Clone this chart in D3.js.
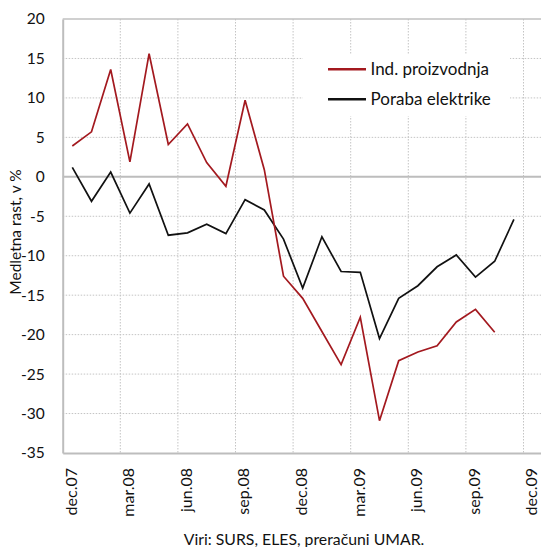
<!DOCTYPE html>
<html>
<head>
<meta charset="utf-8">
<script src="https://cdn.jsdelivr.net/npm/d3@7/dist/d3.min.js"></script>
<style>
  html, body { margin: 0; padding: 0; background: #fff; }
  svg { display: block; font-family: Lato, "Open Sans", sans-serif; }
</style>
</head>
<body>
<svg id="chart" width="541" height="547"></svg>
<script>
// Months, December 2007 – December 2009
const months = [
  "dec.07","jan.08","feb.08","mar.08","apr.08","maj.08","jun.08","jul.08","avg.08",
  "sep.08","okt.08","nov.08","dec.08","jan.09","feb.09","mar.09","apr.09","maj.09",
  "jun.09","jul.09","avg.09","sep.09","okt.09","nov.09","dec.09"
];
// Year-on-year growth, %
const indProizvodnja = [3.9, 5.7, 13.6, 1.9, 15.6, 4.1, 6.7, 1.8, -1.2, 9.7, 0.9, -12.6,
  -15.4, -19.6, -23.8, -17.8, -30.9, -23.3, -22.2, -21.4, -18.4, -16.8, -19.7];
const porabaElektrike = [1.2, -3.1, 0.6, -4.6, -0.9, -7.4, -7.1, -6.0, -7.2, -2.9, -4.2, -7.9,
  -14.1, -7.6, -12.0, -12.1, -20.5, -15.4, -13.8, -11.4, -9.9, -12.7, -10.7, -5.4];
const yTicks = [20, 15, 10, 5, 0, -5, -10, -15, -20, -25, -30, -35];
const seriesNames = ["Ind. proizvodnja", "Poraba elektrike"];
const sourceNote = "Viri: SURS, ELES, preračuni UMAR.";

const svg = d3.select("#chart");
const plotLeft = 62.7, plotRight = 542.7, plotTop = 19, plotBottom = 453;

const x = d3.scaleBand().domain(months).range([plotLeft, plotRight]).paddingInner(0).paddingOuter(0);
const y = d3.scaleLinear().domain([-35, 20]).range([plotBottom, plotTop]);
const cx = d => x(d) + x.bandwidth() / 2;

const grid = svg.append("g");
// horizontal dotted gridlines
grid.selectAll("line.h").data(yTicks.filter(v => v !== 0 && v !== -35 && v !== 20))
  .join("line")
  .attr("x1", plotLeft).attr("x2", plotRight)
  .attr("y1", d => y(d)).attr("y2", d => y(d))
  .attr("stroke", "#c4c4c4").attr("stroke-width", 1).attr("stroke-dasharray", "1.5,1.5");
// vertical dotted gridlines every quarter
const quarterIdx = d3.range(3, months.length, 3);
grid.selectAll("line.v").data(quarterIdx)
  .join("line")
  .attr("x1", i => x(months[i])).attr("x2", i => x(months[i]))
  .attr("y1", plotTop).attr("y2", plotBottom)
  .attr("stroke", "#c4c4c4").attr("stroke-width", 1).attr("stroke-dasharray", "1.5,1.5");

// plot frame
svg.append("line").attr("x1", plotLeft).attr("x2", plotRight).attr("y1", plotTop).attr("y2", plotTop)
  .attr("stroke", "#c0c0c0").attr("stroke-width", 1.5);
svg.append("line").attr("x1", plotLeft).attr("x2", plotRight).attr("y1", y(0)).attr("y2", y(0))
  .attr("stroke", "#bdbdbd").attr("stroke-width", 2);

// Y axis
const yAxis = svg.append("g").attr("transform", `translate(${plotLeft},0)`)
  .call(d3.axisLeft(y).tickValues(yTicks).tickSize(0).tickPadding(18).tickFormat(d3.format("d")));
yAxis.select(".domain").attr("stroke", "#bdbdbd").attr("stroke-width", 2);
yAxis.selectAll("text").attr("font-size", 15.5).attr("fill", "#111").attr("font-family", "Lato, sans-serif")
  .text(d => d < 0 ? "-" + Math.abs(d) : d);

// X axis
const xAxis = svg.append("g").attr("transform", `translate(0,${plotBottom})`)
  .call(d3.axisBottom(x).tickValues(months.filter((m, i) => i % 3 === 0)).tickSize(0).tickPadding(0));
xAxis.select(".domain").attr("stroke", "#bdbdbd").attr("stroke-width", 2);
xAxis.selectAll("text")
  .attr("font-size", 16).attr("fill", "#111").attr("font-family", "Lato, sans-serif")
  .attr("text-anchor", "end")
  .attr("dy", "0.3em")
  .attr("transform", "translate(-0.5,15) rotate(-90)")
  .attr("x", 0).attr("y", 0);

// Y axis title
svg.append("text")
  .attr("transform", `translate(21,232) rotate(-90)`)
  .attr("text-anchor", "middle")
  .attr("font-size", 15.5).attr("fill", "#111")
  .text("Medletna rast, v %");

// series
const line = d3.line().x((d, i) => cx(months[i])).y(d => y(d));
svg.append("path").datum(porabaElektrike).attr("d", line)
  .attr("fill", "none").attr("stroke", "#111").attr("stroke-width", 1.7).attr("stroke-linejoin", "miter");
svg.append("path").datum(indProizvodnja).attr("d", line)
  .attr("fill", "none").attr("stroke", "#a3191f").attr("stroke-width", 1.7).attr("stroke-linejoin", "miter");

// legend
const legend = svg.append("g");
legend.append("rect").attr("x", 303).attr("y", 54).attr("width", 207).attr("height", 62).attr("fill", "#fff");
const colors = ["#a3191f", "#111"];
seriesNames.forEach((name, i) => {
  const ly = 69.3 + i * 30;
  legend.append("line").attr("x1", 328).attr("x2", 366).attr("y1", ly).attr("y2", ly)
    .attr("stroke", colors[i]).attr("stroke-width", 2.6);
  legend.append("text").attr("x", 370.5).attr("y", ly).attr("dy", "0.35em")
    .attr("font-size", 17).attr("fill", "#111").text(name);
});

// source note
svg.append("text").attr("x", 304).attr("y", 545).attr("text-anchor", "middle")
  .attr("font-size", 15.8).attr("fill", "#111").text(sourceNote);
</script>
</body>
</html>
